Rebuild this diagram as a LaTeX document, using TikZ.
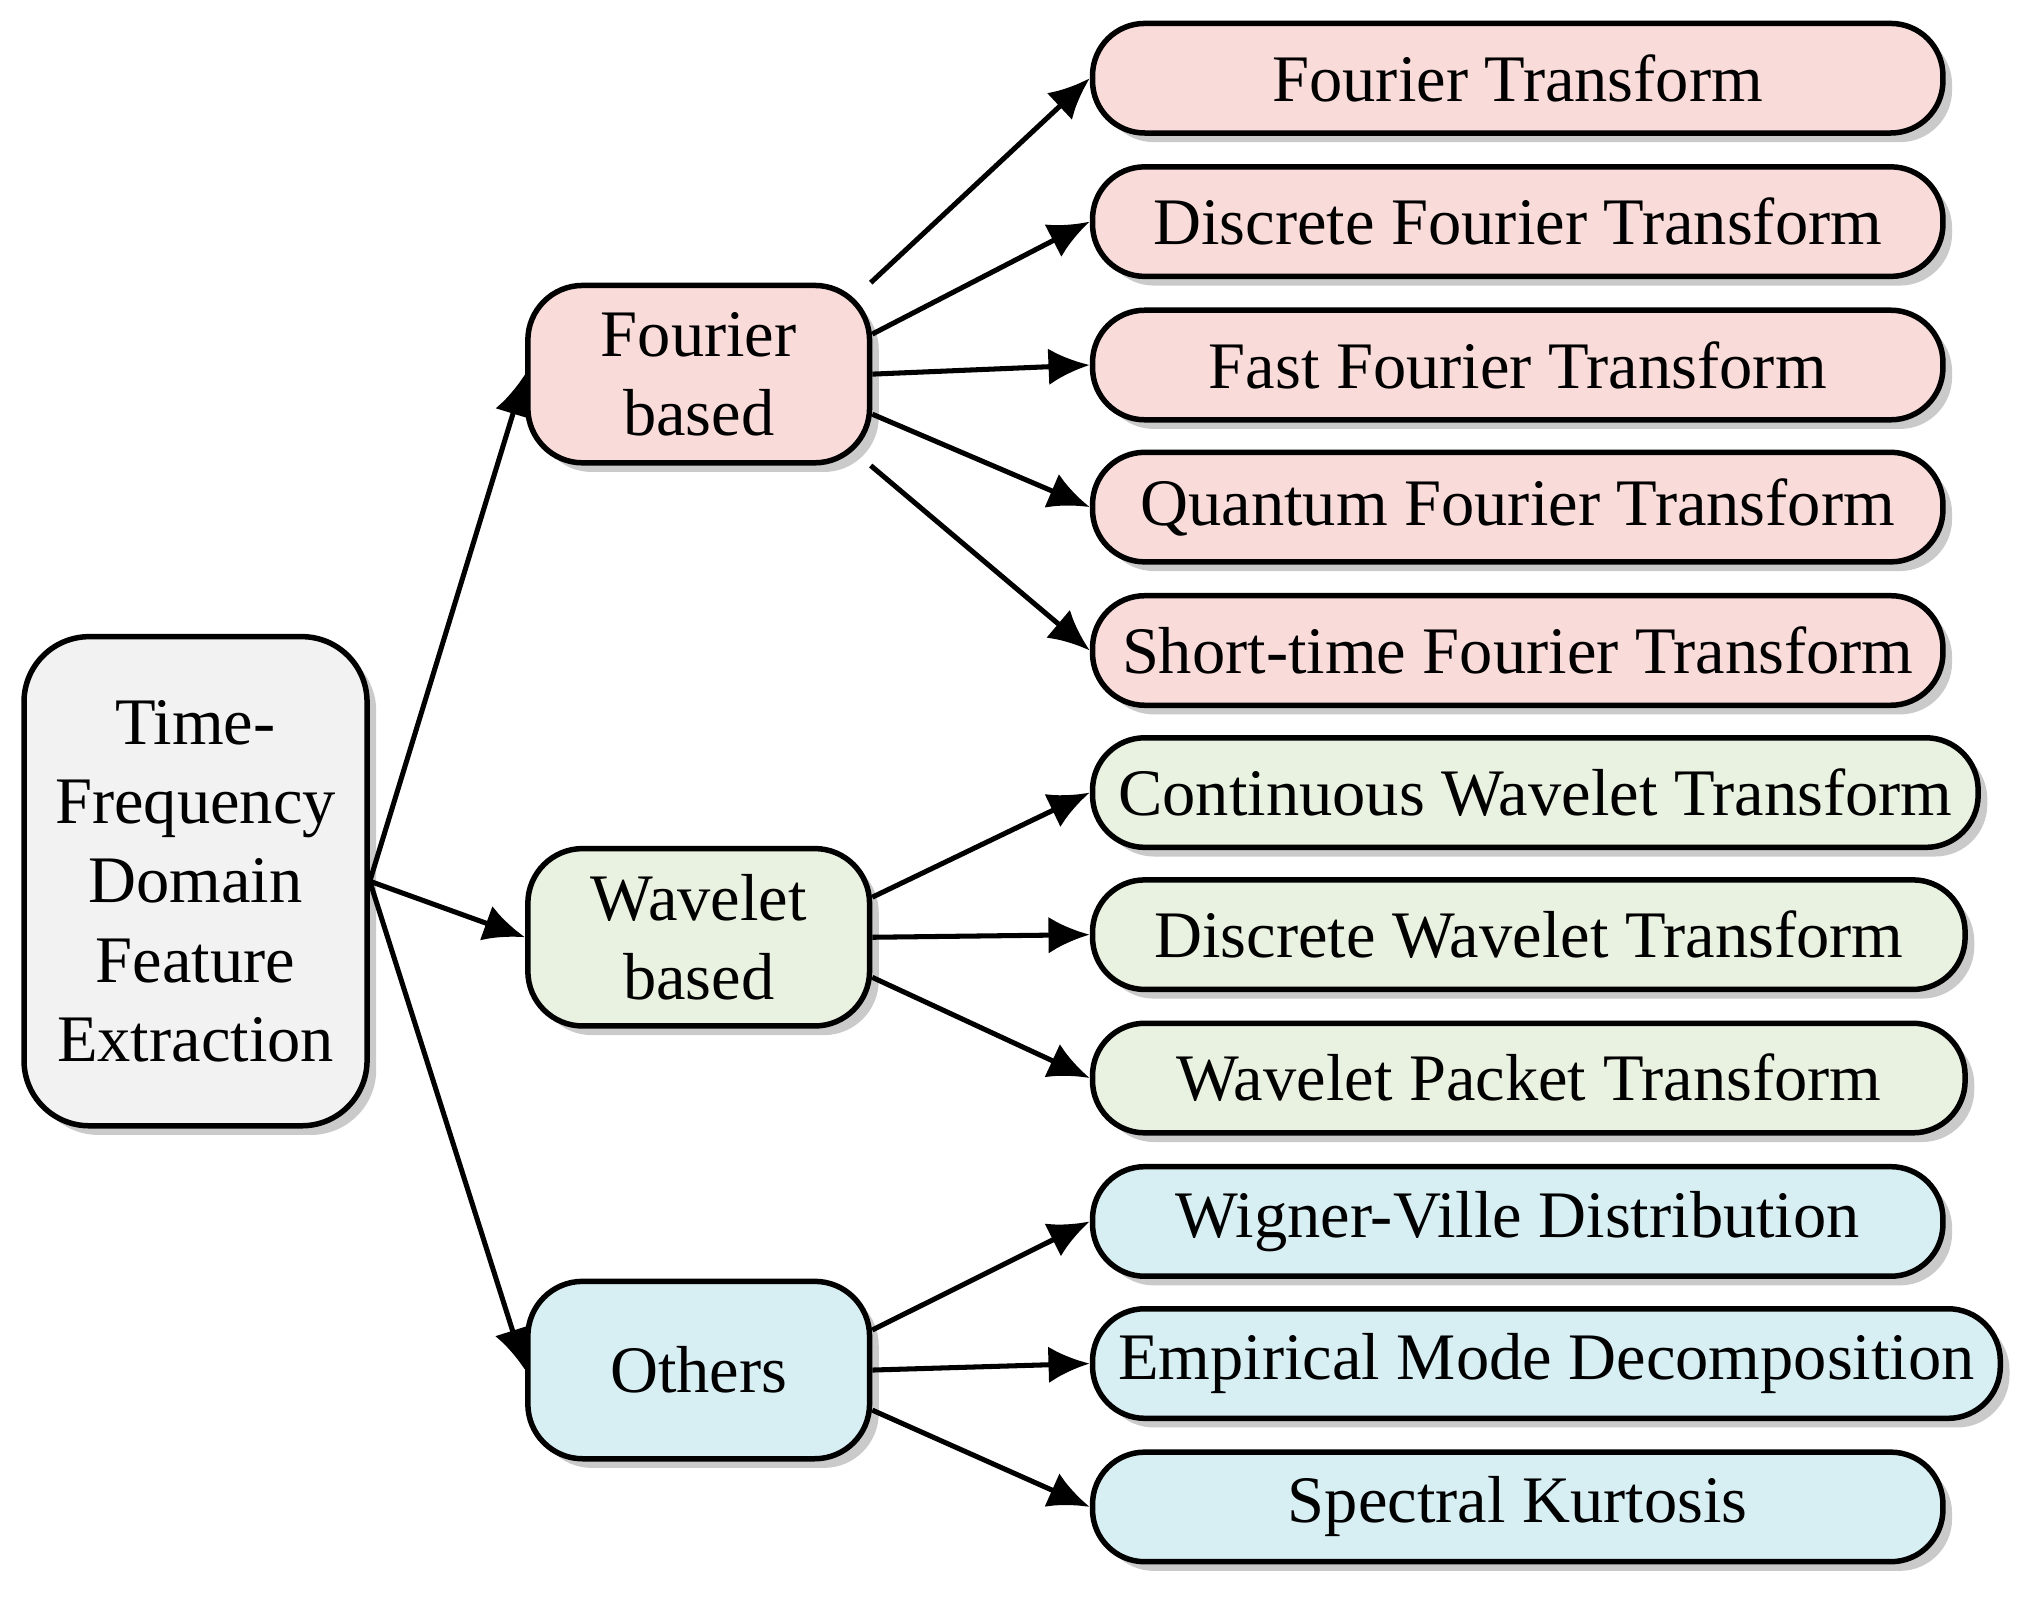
\documentclass[tikz,border=0pt]{standalone}
\usepackage{fontspec}
\setmainfont{Liberation Serif}
\usetikzlibrary{arrows.meta,shadows}
\definecolor{pk}{HTML}{F9DCDA}
\definecolor{gr}{HTML}{E9F1E0}
\definecolor{bl}{HTML}{D7EEF3}
\definecolor{gy}{HTML}{F2F2F2}
\begin{document}
\begin{tikzpicture}[x=0.01cm,y=-0.01cm,
 box/.style={draw=black,line width=1.2pt,rounded corners=0.4cm,inner sep=0pt,align=center,
   font=\fontsize{14.5}{17.3}\selectfont,drop shadow={shadow xshift=2pt,shadow yshift=-2pt,opacity=0.35,fill=black!60}},
 leaf/.style={box,minimum height=0.84cm,anchor=west},
 mid/.style={box,minimum width=2.62cm,minimum height=1.36cm,rounded corners=0.42cm},
 arr/.style={line width=1.1pt,-{Latex[length=9pt,width=8pt]}}]
\useasboundingbox (0,0) rectangle (1568,1233);
\node[box,fill=gy,minimum width=2.63cm,minimum height=3.75cm,rounded corners=0.5cm] (root) at (150,676) {Time-\\Frequency\\Domain\\Feature\\Extraction};
\node[mid,fill=pk] (fb) at (536,287) {Fourier\\based};
\node[mid,fill=gr] (wb) at (536,719) {Wavelet\\based};
\node[mid,fill=bl] (ot) at (536,1051) {Others};
\node[leaf,fill=pk,minimum width=6.52cm] (ft) at (836,60) {Fourier Transform};
\node[leaf,fill=pk,minimum width=6.52cm] (dft) at (836,170) {Discrete Fourier Transform};
\node[leaf,fill=pk,minimum width=6.52cm] (fft) at (836,280) {Fast Fourier Transform};
\node[leaf,fill=pk,minimum width=6.52cm] (qft) at (836,389) {Quantum Fourier Transform};
\node[leaf,fill=pk,minimum width=6.52cm] (stft) at (836,499) {Short-time Fourier Transform};
\node[leaf,fill=gr,minimum width=6.79cm] (cwt) at (836,608) {Continuous Wavelet Transform};
\node[leaf,fill=gr,minimum width=6.69cm] (dwt) at (836,717) {Discrete Wavelet Transform};
\node[leaf,fill=gr,minimum width=6.69cm] (wpt) at (836,827) {Wavelet Packet Transform};
\node[leaf,fill=bl,minimum width=6.52cm] (wvd) at (836,937) {Wigner-Ville Distribution};
\node[leaf,fill=bl,minimum width=6.96cm] (emd) at (836,1046) {Empirical Mode Decomposition};
\node[leaf,fill=bl,minimum width=6.52cm] (sk) at (836,1156) {Spectral Kurtosis};
\draw[arr] (root.east) -- (fb.west);
\draw[arr] (root.east) -- (wb.west);
\draw[arr] (root.east) -- (ot.west);
\draw[arr] (fb.28) -- (ft.west);
\draw[arr] (fb.13) -- (dft.west);
\draw[arr] (fb.east) -- (fft.west);
\draw[arr] (fb.-13) -- (qft.west);
\draw[arr] (fb.-28) -- (stft.west);
\draw[arr] (wb.13) -- (cwt.west);
\draw[arr] (wb.east) -- (dwt.west);
\draw[arr] (wb.-13) -- (wpt.west);
\draw[arr] (ot.13) -- (wvd.west);
\draw[arr] (ot.east) -- (emd.west);
\draw[arr] (ot.-13) -- (sk.west);
\end{tikzpicture}
\end{document}
